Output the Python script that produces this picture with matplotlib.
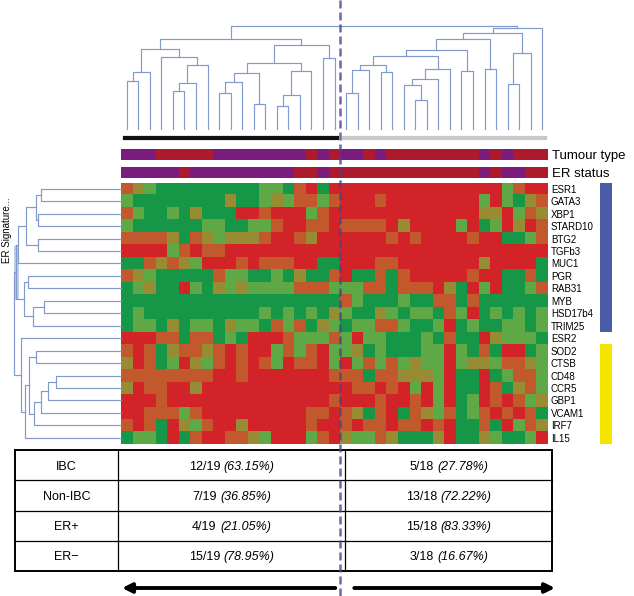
import numpy as np
import matplotlib
matplotlib.use('Agg')
import matplotlib.pyplot as plt
import matplotlib.transforms as mtransforms
from matplotlib.colors import ListedColormap

plt.rcParams['font.family'] = ['Liberation Sans', 'DejaVu Sans']

W, H = 634, 596

genes = ['ESR1', 'GATA3', 'XBP1', 'STARD10', 'BTG2', 'TGFb3', 'MUC1', 'PGR',
         'RAB31', 'MYB', 'HSD17b4', 'TRIM25', 'ESR2', 'SOD2', 'CTSB', 'CD48',
         'CCR5', 'GBP1', 'VCAM1', 'IRF7', 'IL15']
gene_set = ['ER'] * 12 + [''] + ['immune'] * 8

# expression level, samples in dendrogram order (0 = low / green ... 4 = high / red)
expr = [
    [3,2,1,0,0,0,0,0,0,0,0,0,1,1,0,3,4,0,4, 4,4,4,4,4,4,4,4,4,4,4,4,4,4,1,3,4,4],
    [1,0,0,0,0,0,0,0,0,2,0,0,1,2,1,3,3,1,3, 4,4,4,3,4,4,4,4,4,4,4,4,1,4,1,0,2,3],
    [3,1,0,0,1,0,2,0,0,0,4,4,3,4,4,4,1,3,4, 4,4,4,4,4,4,4,4,4,4,4,4,2,2,4,1,3,2],
    [1,0,0,0,0,0,0,1,1,0,0,1,1,3,4,4,3,3,4, 3,3,3,3,4,2,4,4,4,4,1,4,0,1,4,2,4,3],
    [3,3,3,3,2,0,3,2,1,2,2,2,3,4,4,3,2,4,4, 4,4,4,4,3,4,3,4,4,4,4,3,4,4,0,0,1,3],
    [4,4,4,4,1,3,4,3,3,4,4,4,4,4,4,4,4,4,4, 4,4,4,4,4,4,4,4,4,4,4,4,4,4,4,4,4,4],
    [0,0,3,2,3,2,1,4,4,4,3,4,3,3,3,4,4,0,0, 4,4,4,3,3,4,4,4,4,4,4,4,2,4,4,4,4,0],
    [3,2,1,0,0,0,0,0,3,1,1,0,0,1,0,2,0,0,3, 4,0,0,3,0,3,4,4,4,4,4,3,4,4,0,0,3,0],
    [0,1,2,0,0,4,1,0,2,1,2,1,1,1,1,3,3,3,1, 1,1,3,3,0,3,3,3,4,2,0,4,1,4,0,0,1,3],
    [0,0,0,0,0,0,0,0,0,0,0,0,0,0,0,0,0,0,0, 3,1,0,0,0,1,0,0,3,3,0,3,0,0,0,0,0,0],
    [0,1,0,0,0,0,0,0,0,0,0,0,1,0,1,0,1,0,2, 1,0,0,2,1,0,1,1,0,3,1,4,0,1,0,1,0,1],
    [0,1,1,0,2,0,1,1,0,2,1,1,0,3,1,3,0,2,1, 0,1,1,3,3,1,0,0,1,4,0,1,0,0,1,1,0,1],
    [4,4,4,3,3,0,3,3,0,1,0,4,4,4,3,1,1,1,3, 1,4,1,1,0,0,0,1,0,3,0,0,4,2,1,1,1,0],
    [3,4,3,0,2,3,3,2,3,4,3,4,4,1,3,1,3,4,1, 1,2,0,1,0,0,0,1,1,4,1,0,3,0,4,4,0,1],
    [2,4,3,0,1,4,2,1,3,4,3,4,3,1,4,3,3,4,1, 4,1,3,1,3,1,2,1,1,4,1,2,2,1,3,3,2,1],
    [3,3,3,3,3,3,3,3,4,4,3,4,4,4,4,4,4,4,3, 3,3,0,3,3,2,2,2,1,4,0,0,4,0,1,3,3,1],
    [2,4,3,3,4,4,2,4,4,4,4,4,4,4,4,4,4,4,4, 4,3,3,4,3,4,1,4,1,4,0,0,4,3,0,2,3,1],
    [4,4,4,3,4,4,4,4,4,4,4,4,4,4,4,4,4,4,3, 4,4,4,3,4,4,3,4,1,4,0,1,4,3,4,3,1,2],
    [4,4,3,3,3,1,3,4,4,4,4,4,4,4,4,4,3,3,4, 3,2,0,3,4,0,3,2,1,3,0,1,3,4,3,4,3,0],
    [3,4,3,0,4,2,1,3,4,4,2,4,4,4,4,4,3,4,4, 3,4,3,3,4,3,3,4,3,4,0,0,3,0,4,1,3,2],
    [0,1,1,0,4,0,3,4,4,3,3,2,1,4,4,4,1,3,4, 2,1,1,3,2,0,0,0,2,4,0,0,2,1,0,0,1,4],
]

cluster_sizes = [19, 18]
# I = IBC, N = non-IBC ; - = ER negative, + = ER positive
tumour_type = 'IIINNNNNIIIIIIIININ' + 'IININNNNNNNNININNN'
er_status = '-----+---------++-+' + '++++++++++++-+--++'

# hierarchical merges (node a, node b, height); new nodes numbered after the leaves
top_links = [
    (0, 1, 48), (37, 2, 56), (4, 5, 38), (39, 6, 46), (40, 7, 63), (3, 41, 71),
    (38, 42, 79), (8, 9, 36), (44, 10, 47), (11, 12, 25), (45, 46, 55), (13, 14, 23),
    (48, 15, 34), (49, 16, 57), (47, 50, 65), (17, 18, 70), (51, 52, 83), (43, 53, 89),
    (19, 20, 36), (55, 21, 58), (22, 23, 56), (56, 57, 63), (25, 26, 29), (24, 59, 44),
    (60, 27, 50), (61, 28, 59), (58, 62, 72), (29, 30, 57), (63, 64, 78), (31, 32, 59),
    (65, 66, 89), (33, 34, 45), (68, 35, 75), (67, 69, 95), (70, 36, 100), (54, 71, 102),
]
left_links = [
    (0, 1, 80), (2, 3, 83), (21, 22, 85), (4, 5, 83), (23, 24, 95), (25, 6, 103),
    (7, 8, 93), (9, 10, 77), (28, 11, 88), (27, 29, 97), (26, 30, 105),
    (13, 14, 85), (15, 16, 65), (33, 17, 73), (34, 18, 80), (35, 19, 87),
    (32, 36, 92), (37, 20, 96), (12, 38, 100), (31, 39, 107),
]
er_signature_node = 31

table_rows = ['IBC', 'Non-IBC', 'ER+', 'ER\u2212']
left_counts = [12, 7, 4, 15]
right_counts = [5, 13, 15, 3]
left_pct = ['63.15%', '36.85%', '21.05%', '78.95%']
right_pct = ['27.78%', '72.22%', '83.33%', '16.67%']

level_colors = ['#169647', '#5ea945', '#978c33', '#c2592c', '#d22428']
purple, dark_red = '#7a1b7e', '#ad1a2c'
dend_color = '#7f9acb'


def box(l, t, r, b):
    return [l / W, 1 - b / H, (r - l) / W, (b - t) / H]


def draw_dendro(ax, links, n, orient, highlight=None):
    pos = {i: float(i) for i in range(n)}
    hgt = {i: 0.0 for i in range(n)}
    for k, (a, b, h) in enumerate(links):
        node = n + k
        xs = [pos[a], pos[a], pos[b], pos[b]]
        ys = [hgt[a], h, h, hgt[b]]
        if orient == 'top':
            ax.plot(xs, ys, color=dend_color, lw=0.85, clip_on=False)
        else:
            ax.plot(ys, xs, color=dend_color, lw=0.85, clip_on=False)
            if node == highlight:
                ax.plot([h, h], [pos[a], pos[b]], color='#b9cdea', lw=3.5,
                        solid_capstyle='butt', zorder=0)
        pos[node] = (pos[a] + pos[b]) / 2
        hgt[node] = h


n = len(expr[0])
fig = plt.figure(figsize=(W / 100, H / 100), dpi=100)

# top dendrogram
ax_dt = fig.add_axes(box(121, 22, 548, 129))
draw_dendro(ax_dt, top_links, n, 'top')
ax_dt.set_xlim(-0.5, n - 0.5)
ax_dt.set_ylim(0, 106)
ax_dt.axis('off')

# cluster bar
ax_g = fig.add_axes(box(121, 134, 548, 141))
starts = np.concatenate([[0], np.cumsum(cluster_sizes)[:-1]]) - 0.5
ax_g.barh(0, cluster_sizes, left=starts, height=1, color=['#111111', '#c8c8c8'],
          edgecolor='white', linewidth=2)
ax_g.set_xlim(-0.5, n - 0.5)
ax_g.set_ylim(-0.5, 0.5)
ax_g.axis('off')

# tumour type / ER status bars
for (t, b), codes, pos_code, label in [((149, 160), tumour_type, 'I', 'Tumour type'),
                                       ((167, 178), er_status, '-', 'ER status')]:
    ax = fig.add_axes(box(121, t, 548, b))
    vals = np.array([[1 if c == pos_code else 0 for c in codes]])
    ax.imshow(vals, cmap=ListedColormap([dark_red, purple]), vmin=0, vmax=1,
              aspect='auto', interpolation='nearest')
    ax.set_xticks([])
    ax.set_yticks([0])
    ax.set_yticklabels([label], fontsize=9.5)
    ax.yaxis.tick_right()
    ax.tick_params(axis='y', length=0, pad=3)
    for s in ax.spines.values():
        s.set_visible(False)

# heatmap
ax_h = fig.add_axes(box(121, 182.5, 548, 444))
ax_h.imshow(np.array(expr), cmap=ListedColormap(level_colors), vmin=-0.5, vmax=4.5,
            aspect='auto', interpolation='nearest')
ax_h.set_xticks([])
ax_h.set_yticks(range(len(genes)))
ax_h.set_yticklabels(genes, fontsize=7)
ax_h.yaxis.tick_right()
ax_h.tick_params(axis='y', length=0, pad=2)
for s in ax_h.spines.values():
    s.set_visible(False)

# left dendrogram
ax_dl = fig.add_axes(box(10, 182.5, 121, 444))
draw_dendro(ax_dl, left_links, len(genes), 'left', highlight=er_signature_node)
ax_dl.set_xlim(111, 0)
ax_dl.set_ylim(len(genes) - 0.5, -0.5)
ax_dl.axis('off')
fig.text(7 / W, 1 - 230 / H, 'ER Signature...', rotation=90, ha='center', va='center',
         fontsize=7)

# signature side bars
ax_s = fig.add_axes(box(600, 182.5, 612, 444))
set_colors = {'ER': '#4a5ca8', 'immune': '#f4e400'}
for i, g in enumerate(gene_set):
    if g:
        ax_s.barh(i, 1, height=1, color=set_colors[g])
ax_s.set_xlim(0, 1)
ax_s.set_ylim(len(genes) - 0.5, -0.5)
ax_s.axis('off')

# table
ax_t = fig.add_axes(box(15, 450, 552, 571))
col_w = [103, 227, 207]
edges = np.concatenate([[0], np.cumsum(col_w)])
nr = len(table_rows)
ax_t.set_xlim(0, edges[-1])
ax_t.set_ylim(nr, 0)
ax_t.axis('off')
for y in range(nr + 1):
    ax_t.plot([0, edges[-1]], [y, y], color='black', lw=1.4 if y in (0, nr) else 0.9,
              clip_on=False)
for i, x in enumerate(edges):
    ax_t.plot([x, x], [0, nr], color='black', lw=1.4 if i in (0, len(edges) - 1) else 0.9,
              clip_on=False)

pairs = []
for i, name in enumerate(table_rows):
    ax_t.text(col_w[0] / 2, i + 0.65, name, ha='center', va='baseline', fontsize=9)
    for j, (cnt, tot, pct) in enumerate([(left_counts[i], cluster_sizes[0], left_pct[i]),
                                         (right_counts[i], cluster_sizes[1], right_pct[i])]):
        xc = edges[j + 1] + col_w[j + 1] / 2
        t1 = ax_t.text(xc, i + 0.65, f'{cnt}/{tot}', ha='left', va='baseline', fontsize=9)
        t2 = ax_t.text(xc, i + 0.65, f'({pct})', ha='left', va='baseline', fontsize=9,
                       style='italic')
        pairs.append((t1, t2))

fig.canvas.draw()
r = fig.canvas.get_renderer()
gap = 9 * 0.28 * fig.dpi / 72
for t1, t2 in pairs:
    w1 = t1.get_window_extent(r).width
    w2 = t2.get_window_extent(r).width
    start = -(w1 + gap + w2) / 2
    t1.set_transform(ax_t.transData + mtransforms.ScaledTranslation(start / fig.dpi, 0,
                                                                    fig.dpi_scale_trans))
    t2.set_transform(ax_t.transData + mtransforms.ScaledTranslation((start + w1 + gap) / fig.dpi, 0,
                                                                    fig.dpi_scale_trans))

# overlay: split line and arrows
ax_o = fig.add_axes([0, 0, 1, 1], facecolor='none')
ax_o.set_xlim(0, W)
ax_o.set_ylim(H, 0)
ax_o.axis('off')
split_disp = ax_h.transData.transform((cluster_sizes[0] - 0.5, 0))
xs = ax_o.transData.inverted().transform(split_disp)[0]
ax_o.plot([xs, xs], [0, H], ls=(0, (3.2, 1.6)), lw=1.8, color='#47438d', alpha=0.8)

tab_left = ax_o.transData.inverted().transform(ax_t.transData.transform((edges[1], nr)))
tab_right = ax_o.transData.inverted().transform(ax_t.transData.transform((edges[-1], nr)))
ya = tab_left[1] + 17
ax_o.annotate('', xy=(tab_left[0] + 4, ya), xytext=(xs - 5, ya),
              arrowprops=dict(arrowstyle='-|>', lw=2.8, color='black', mutation_scale=14,
                              shrinkA=0, shrinkB=0))
ax_o.annotate('', xy=(tab_right[0] + 3, ya), xytext=(xs + 14, ya),
              arrowprops=dict(arrowstyle='-|>', lw=2.8, color='black', mutation_scale=14,
                              shrinkA=0, shrinkB=0))

fig.savefig('out.png', dpi=100)
